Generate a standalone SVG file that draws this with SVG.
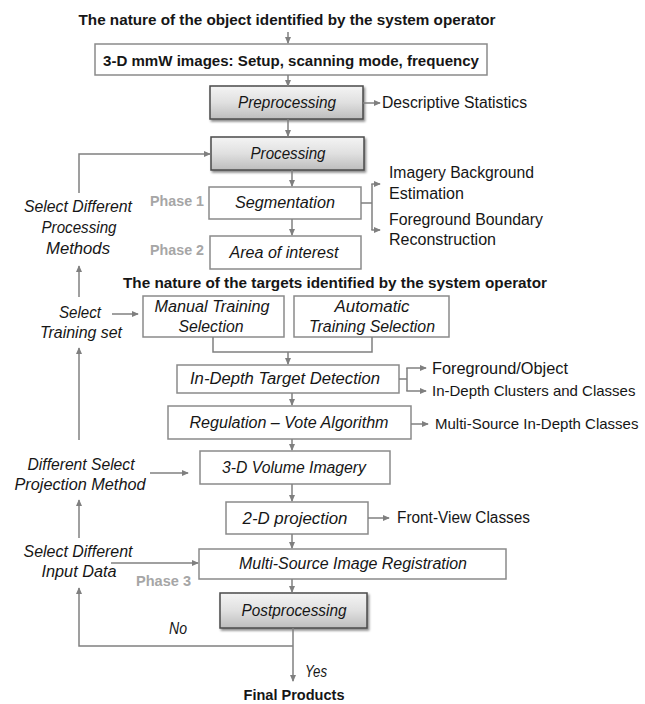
<svg xmlns="http://www.w3.org/2000/svg" width="645" height="704" viewBox="0 0 645 704">
<defs>
<linearGradient id="gray" x1="0" y1="0" x2="0" y2="1">
<stop offset="0" stop-color="#f4f4f4"/>
<stop offset="0.5" stop-color="#e0e0e0"/>
<stop offset="1" stop-color="#bdbdbd"/>
</linearGradient>
<filter id="sh" x="-10%" y="-10%" width="130%" height="140%">
<feDropShadow dx="1.5" dy="2" stdDeviation="1.2" flood-color="#000" flood-opacity="0.45"/>
</filter>
<marker id="ah" viewBox="0 0 8 8" refX="7" refY="4" markerWidth="7" markerHeight="7" markerUnits="userSpaceOnUse" orient="auto">
<path d="M0,0.5 L8,4 L0,7.5 Z" fill="#7f7f7f"/>
</marker>
<style>
text{font-family:"Liberation Sans",Arial,sans-serif;fill:#161616}
.t{font-size:15.5px;font-weight:bold}
.i{font-size:16px;font-style:italic}
.n{font-size:16px}
.s{font-size:15px}
.ph{font-size:15.5px;font-weight:bold;fill:#a6a6a6}
.m{text-anchor:middle}
.box{fill:#fff;stroke:#8a8a8a;stroke-width:1.5}
.gbox{fill:url(#gray);stroke:#4a4a4a;stroke-width:1.5;filter:url(#sh)}
.c{fill:none;stroke:#808080;stroke-width:1.5}
.a{marker-end:url(#ah)}
</style>
</defs>

<g id="title1"><text class="t m" x="287" y="25" textLength="417" lengthAdjust="spacingAndGlyphs">The nature of the object identified by the system operator</text></g>
<g id="mmw"><rect class="box" x="95" y="44" width="392" height="31"/><text class="t m" x="291" y="66" textLength="376" lengthAdjust="spacingAndGlyphs">3-D mmW images: Setup, scanning mode, frequency</text></g>
<g id="preprocessing"><rect class="gbox" x="210" y="86" width="153" height="33"/><text class="i m" x="287" y="108" textLength="98" lengthAdjust="spacingAndGlyphs">Preprocessing</text></g>
<g id="descriptive"><text class="n" x="382" y="108" textLength="145" lengthAdjust="spacingAndGlyphs">Descriptive Statistics</text></g>
<g id="processing"><rect class="gbox" x="211" y="137" width="153" height="33"/><text class="i m" x="288" y="159" textLength="75" lengthAdjust="spacingAndGlyphs">Processing</text></g>
<g id="phase1"><text class="ph" x="150" y="206" textLength="54" lengthAdjust="spacingAndGlyphs">Phase 1</text></g>
<g id="segmentation"><rect class="box" x="209" y="187" width="152" height="32"/><text class="i m" x="285" y="208" textLength="100" lengthAdjust="spacingAndGlyphs">Segmentation</text></g>
<g id="imagery"><text class="n" x="389" y="178" textLength="145" lengthAdjust="spacingAndGlyphs">Imagery Background</text><text class="n" x="389" y="199" textLength="75" lengthAdjust="spacingAndGlyphs">Estimation</text></g>
<g id="foreground-boundary"><text class="n" x="389" y="225" textLength="154" lengthAdjust="spacingAndGlyphs">Foreground Boundary</text><text class="n" x="389" y="245" textLength="107" lengthAdjust="spacingAndGlyphs">Reconstruction</text></g>
<g id="phase2"><text class="ph" x="150" y="255" textLength="54" lengthAdjust="spacingAndGlyphs">Phase 2</text></g>
<g id="area"><rect class="box" x="210" y="236" width="151" height="33"/><text class="i m" x="284" y="258" textLength="109" lengthAdjust="spacingAndGlyphs">Area of interest</text></g>
<g id="select-processing"><text class="i m" x="78" y="212" textLength="108" lengthAdjust="spacingAndGlyphs">Select Different</text><text class="i m" x="79" y="233" textLength="75" lengthAdjust="spacingAndGlyphs">Processing</text><text class="i m" x="78" y="254" textLength="64" lengthAdjust="spacingAndGlyphs">Methods</text></g>
<g id="title2"><text class="t m" x="335" y="288" textLength="424" lengthAdjust="spacingAndGlyphs">The nature of the targets identified by the system operator</text></g>
<g id="select-training"><text class="i m" x="80" y="318" textLength="42" lengthAdjust="spacingAndGlyphs">Select</text><text class="i m" x="81" y="338" textLength="82" lengthAdjust="spacingAndGlyphs">Training set</text></g>
<g id="manual"><rect class="box" x="143" y="296" width="141" height="41"/><text class="i m" x="212" y="312" textLength="115" lengthAdjust="spacingAndGlyphs">Manual Training</text><text class="i m" x="211" y="332" textLength="65" lengthAdjust="spacingAndGlyphs">Selection</text></g>
<g id="automatic"><rect class="box" x="294" y="296" width="155" height="41"/><text class="i m" x="372" y="312" textLength="75" lengthAdjust="spacingAndGlyphs">Automatic</text><text class="i m" x="372" y="332" textLength="126" lengthAdjust="spacingAndGlyphs">Training Selection</text></g>
<g id="indepth"><rect class="box" x="177" y="365" width="222" height="28"/><text class="i m" x="285" y="384" textLength="190" lengthAdjust="spacingAndGlyphs">In-Depth Target Detection</text></g>
<g id="fg-object"><text class="n" x="432" y="374" textLength="136" lengthAdjust="spacingAndGlyphs">Foreground/Object</text></g>
<g id="clusters"><text class="s" x="432" y="396">In-Depth Clusters and Classes</text></g>
<g id="regulation"><rect class="box" x="168" y="406" width="243" height="33"/><text class="i m" x="289" y="428" textLength="199" lengthAdjust="spacingAndGlyphs">Regulation – Vote Algorithm</text></g>
<g id="multisource-classes"><text class="s" x="435" y="429">Multi-Source In-Depth Classes</text></g>
<g id="volume"><rect class="box" x="200" y="451" width="190" height="33"/><text class="i m" x="294" y="473" textLength="144" lengthAdjust="spacingAndGlyphs">3-D Volume Imagery</text></g>
<g id="select-projection"><text class="i m" x="81" y="470" textLength="107" lengthAdjust="spacingAndGlyphs">Different Select</text><text class="i m" x="80" y="490" textLength="131" lengthAdjust="spacingAndGlyphs">Projection Method</text></g>
<g id="projection2d"><rect class="box" x="226" y="502" width="142" height="32"/><text class="i m" x="295" y="524" textLength="105" lengthAdjust="spacingAndGlyphs">2-D projection</text></g>
<g id="frontview"><text class="n" x="397" y="523" textLength="133" lengthAdjust="spacingAndGlyphs">Front-View Classes</text></g>
<g id="select-input"><text class="i m" x="78" y="557" textLength="109" lengthAdjust="spacingAndGlyphs">Select Different</text><text class="i m" x="79" y="577" textLength="75" lengthAdjust="spacingAndGlyphs">Input Data</text></g>
<g id="registration"><rect class="box" x="199" y="549" width="307" height="30"/><text class="i m" x="353" y="569" textLength="228" lengthAdjust="spacingAndGlyphs">Multi-Source Image Registration</text></g>
<g id="phase3"><text class="ph" x="136" y="586" textLength="55" lengthAdjust="spacingAndGlyphs">Phase 3</text></g>
<g id="postprocessing"><rect class="gbox" x="220" y="593" width="147" height="35"/><text class="i m" x="294" y="616" textLength="105" lengthAdjust="spacingAndGlyphs">Postprocessing</text></g>
<g id="no-label"><text class="i" x="169" y="634" textLength="18" lengthAdjust="spacingAndGlyphs">No</text></g>
<g id="yes-label"><text class="i" x="305" y="677" textLength="22" lengthAdjust="spacingAndGlyphs">Yes</text></g>
<g id="final"><text class="t m" x="294" y="700" textLength="101" lengthAdjust="spacingAndGlyphs">Final Products</text></g>

<g id="connectors">
<path class="c a" d="M288,32 V43"/>
<path class="c a" d="M288,75 V86"/>
<path class="c a" d="M363,103 H380"/>
<path class="c a" d="M288,119 V136"/>
<path class="c a" d="M79,193 V154 H210"/>
<path class="c a" d="M292,170 V186"/>
<path class="c" d="M361,203 H372 M372,184 V230"/>
<path class="c a" d="M371.3,184 H380"/>
<path class="c a" d="M371.3,230 H380"/>
<path class="c a" d="M292,219 V235"/>
<path class="c a" d="M79,297 V266"/>
<path class="c a" d="M112,314 H138"/>
<path class="c" d="M213,337 V352 H372 V337"/>
<path class="c a" d="M288,352 V364"/>
<path class="c" d="M399,379 H407 M407,368 V391"/>
<path class="c a" d="M406.3,368 H426"/>
<path class="c a" d="M406.3,391 H426"/>
<path class="c a" d="M292,393 V405"/>
<path class="c a" d="M411,424 H428"/>
<path class="c a" d="M292,439 V450"/>
<path class="c a" d="M79,440 V348"/>
<path class="c a" d="M150,473 H188"/>
<path class="c a" d="M292,484 V501"/>
<path class="c a" d="M368,518 H389"/>
<path class="c a" d="M79,538 V500"/>
<path class="c a" d="M292,534 V548"/>
<path class="c a" d="M111,563 H198"/>
<path class="c a" d="M292,579 V592"/>
<path class="c a" d="M293,628 V681"/>
<path class="c a" d="M293,646 H79 V588"/>
</g>
</svg>
